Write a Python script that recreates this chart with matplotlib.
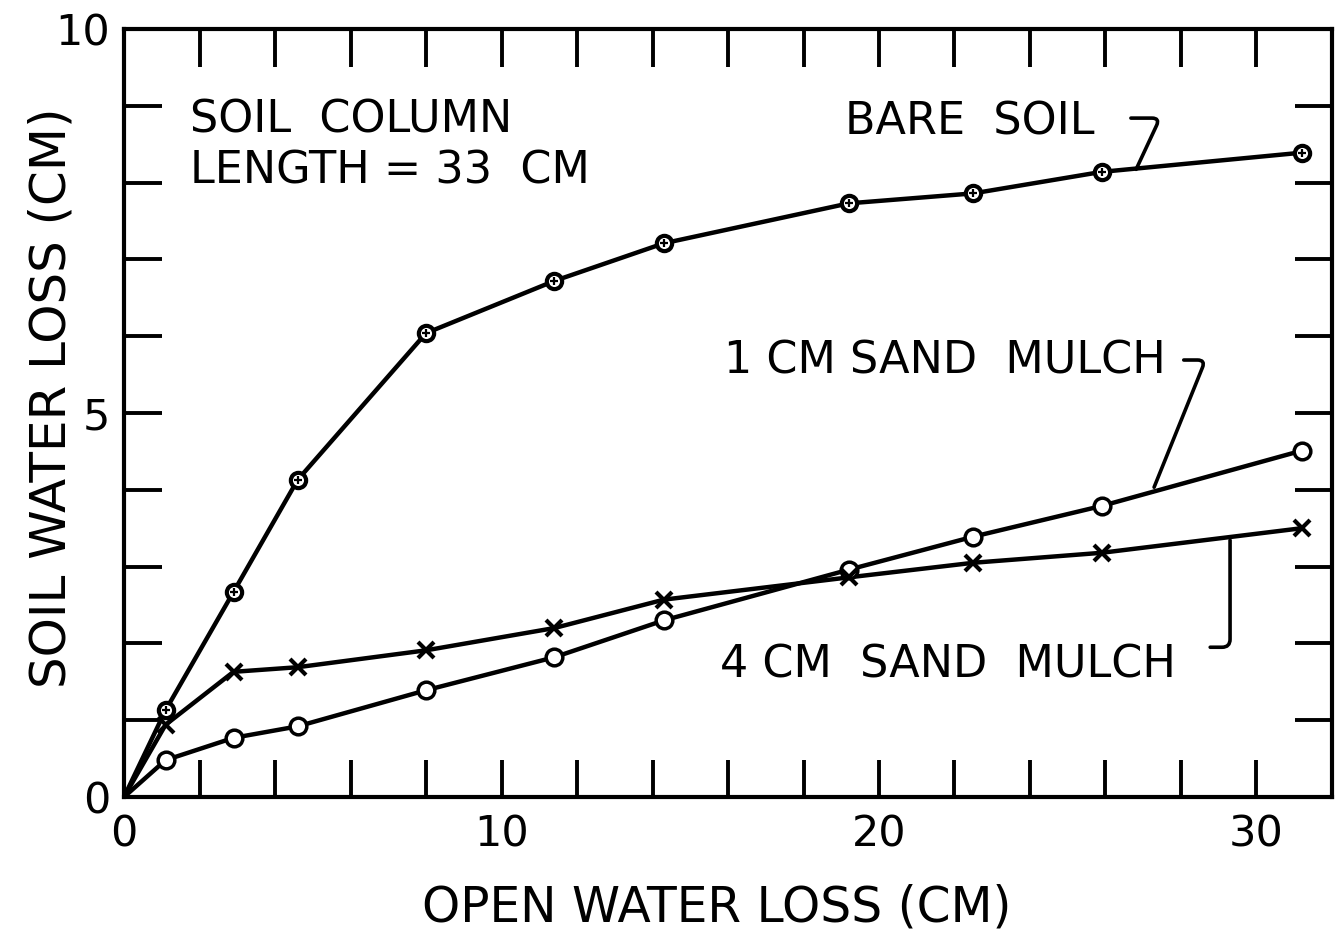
import numpy as np
import matplotlib
matplotlib.use("Agg")
import matplotlib.pyplot as plt

# open water loss (cm) at each measurement
open_loss = [1.1, 2.9, 4.6, 8.0, 11.4, 14.3, 19.2, 22.5, 25.9, 31.2]

# soil water loss (cm) for each treatment
bare_soil = [1.13, 2.67, 4.13, 6.04, 6.72, 7.21, 7.73, 7.86, 8.14, 8.39]
mulch_1cm = [0.48, 0.77, 0.92, 1.39, 1.82, 2.30, 2.96, 3.39, 3.79, 4.51]
mulch_4cm = [0.94, 1.63, 1.69, 1.91, 2.20, 2.57, 2.86, 3.05, 3.18, 3.50]

x_ticks = list(range(0, 33, 2))
y_ticks = list(range(0, 11))

plt.rcParams['font.family'] = 'DejaVu Sans'

fig = plt.figure(figsize=(13.38, 9.36), dpi=100)
ax = fig.add_axes([0.0927, 0.1485, 0.9028, 0.8205])

# every curve starts at the origin
x_line = [0] + open_loss
kw = dict(color='black', lw=3.2)
ax.plot(x_line, [0] + bare_soil, **kw)
ax.plot(x_line, [0] + mulch_1cm, **kw)
ax.plot(x_line, [0] + mulch_4cm, **kw)

ax.plot(open_loss, bare_soil, 'o', ms=11, mfc='white', mec='black', mew=3)
ax.plot(open_loss, bare_soil, '+', ms=6, color='black', mew=1.6)
ax.plot(open_loss, mulch_1cm, 'o', ms=12, mfc='white', mec='black', mew=2.5)
ax.plot(open_loss, mulch_4cm, 'x', ms=12, color='black', mew=3)

ax.set_xlim(0, 32)
ax.set_ylim(0, 10)

ax.set_xticks(x_ticks)
ax.set_xticklabels([str(t) if t % 10 == 0 else "" for t in x_ticks])
ax.set_yticks(y_ticks)
ax.set_yticklabels([str(t) if t % 5 == 0 else "" for t in y_ticks])
ax.tick_params(direction='in', length=27, width=2.8, top=True, right=True,
               labelsize=31, pad=10)
ax.tick_params(axis='x', pad=12)
for s in ax.spines.values():
    s.set_linewidth(3)

ax.set_xlabel("OPEN WATER LOSS (CM)", fontsize=35)
ax.set_ylabel("SOIL WATER LOSS (CM)", fontsize=36)
ax.xaxis.set_label_coords(0.491, -0.112)
ax.yaxis.set_label_coords(-0.040, 0.52)

fs = 32
ax.text(1.75, 8.65, "SOIL  COLUMN", fontsize=fs)
ax.text(1.75, 7.99, "LENGTH = 33  CM", fontsize=fs)
ax.text(19.1, 8.63, "BARE  SOIL", fontsize=fs)
ax.text(15.9, 5.52, "1 CM SAND  MULCH", fontsize=fs)
ax.text(15.8, 1.55, "4 CM  SAND  MULCH", fontsize=fs)

# leader lines from labels to curves
lead = dict(arrowstyle='-', color='black', lw=2.6)
ax.annotate('', xy=(26.78, 8.14), xytext=(26.6, 8.84),
            arrowprops=dict(connectionstyle='angle,angleA=0,angleB=65,rad=8', **lead))
ax.annotate('', xy=(27.26, 4.0), xytext=(28.0, 5.69),
            arrowprops=dict(connectionstyle='angle,angleA=0,angleB=68,rad=8', **lead))
ax.annotate('', xy=(29.3, 3.38), xytext=(28.7, 1.95),
            arrowprops=dict(connectionstyle='angle,angleA=0,angleB=90,rad=8', **lead))

fig.savefig("out.png", dpi=100, facecolor='white')
